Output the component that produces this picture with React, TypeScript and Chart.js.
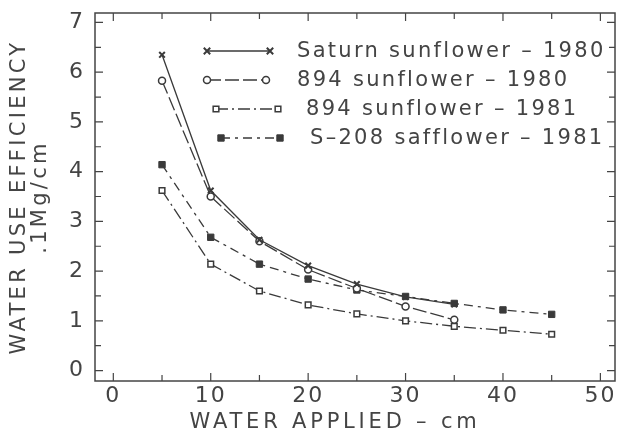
import React, { useEffect, useRef } from 'react';
import { Chart, registerables } from 'chart.js';
Chart.register(...registerables);

// ---- data ----
const waterApplied = [5, 10, 15, 20, 25, 30, 35, 40, 45];
const saturn1980 = [6.35, 3.62, 2.63, 2.11, 1.74, 1.48, 1.33];
const sunflower894_1980 = [5.83, 3.5, 2.6, 2.03, 1.65, 1.29, 1.02];
const sunflower894_1981 = [3.62, 2.14, 1.6, 1.32, 1.14, 1.0, 0.89, 0.81, 0.73];
const safflowerS208_1981 = [4.14, 2.68, 2.14, 1.84, 1.62, 1.49, 1.35, 1.22, 1.13];
const seriesLabels = [
  'Saturn sunflower – 1980',
  '894 sunflower – 1980',
  '894 sunflower – 1981',
  'S–208 safflower – 1981',
];
const xTickLabels = [0, 10, 20, 30, 40, 50];
const yTickLabels = [0, 1, 2, 3, 4, 5, 6, 7];
const xFrameTicks = [0, 5, 10, 15, 20, 25, 30, 35, 40, 45, 50];
const yFrameTicks = [0, 0.5, 1, 1.5, 2, 2.5, 3, 3.5, 4, 4.5, 5, 5.5, 6, 6.5, 7];
const xTitle = 'WATER APPLIED – cm';
const yTitle = ['WATER USE EFFICIENCY', '.1Mg/cm'];

const INK = '#3a3a3a';
const TEXT = '#444';
const FONT = "'DejaVu Sans', sans-serif";

function toPoints(vals: number[]) {
  return vals.map((v, i) => ({ x: waterApplied[i], y: v }));
}

function drawMarker(ctx: CanvasRenderingContext2D, style: string, x: number, y: number, r: number, fill: string, lw: number) {
  ctx.save();
  ctx.lineWidth = lw;
  ctx.strokeStyle = INK;
  ctx.fillStyle = fill;
  ctx.setLineDash([]);
  ctx.beginPath();
  if (style === 'circle') {
    ctx.arc(x, y, r, 0, Math.PI * 2);
    ctx.fill();
    ctx.stroke();
  } else if (style === 'rect') {
    const s = r * Math.SQRT1_2 * 2;
    ctx.rect(x - s / 2, y - s / 2, s, s);
    ctx.fill();
    ctx.stroke();
  } else {
    const d = r * 0.8;
    ctx.moveTo(x - d, y - d);
    ctx.lineTo(x + d, y + d);
    ctx.moveTo(x + d, y - d);
    ctx.lineTo(x - d, y + d);
    ctx.stroke();
  }
  ctx.restore();
}

const frameAndLegend = {
  id: 'frameAndLegend',
  beforeLayout(chart: any) {
    chart.ctx.letterSpacing = '2px';
  },
  beforeDraw(chart: any) {
    const ctx = chart.ctx;
    ctx.save();
    ctx.fillStyle = '#fff';
    ctx.fillRect(0, 0, chart.width, chart.height);
    ctx.restore();
    ctx.letterSpacing = '2px';
  },
  afterDraw(chart: any) {
    const ctx: CanvasRenderingContext2D = chart.ctx;
    const { left, right, top, bottom } = chart.chartArea;
    const xs = chart.scales.x;
    const ys = chart.scales.y;
    ctx.save();
    ctx.strokeStyle = '#444';
    ctx.lineWidth = 1.5;
    ctx.setLineDash([]);
    ctx.strokeRect(left, top, right - left, bottom - top);
    ctx.lineWidth = 1.2;
    ctx.beginPath();
    xFrameTicks.forEach((v, i) => {
      const px = xs.getPixelForValue(v);
      const len = i % 2 === 0 ? 8 : 6;
      ctx.moveTo(px, bottom);
      ctx.lineTo(px, bottom - len);
      ctx.moveTo(px, top);
      ctx.lineTo(px, top + len);
    });
    yFrameTicks.forEach((v, i) => {
      const py = ys.getPixelForValue(v);
      const len = i % 2 === 0 ? 8 : 6;
      ctx.moveTo(left, py);
      ctx.lineTo(left + len, py);
      ctx.moveTo(right, py);
      ctx.lineTo(right - len, py);
    });
    ctx.stroke();
    ctx.restore();

    // legend
    const rowsY = [51, 80, 109, 138];
    const lineStart = [207, 207, 216, 221];
    const lineEnd = [270, 266, 278, 280];
    const textX = [297, 297, 306, 310];
    chart.data.datasets.forEach((ds: any, i: number) => {
      const y = rowsY[i];
      ctx.save();
      ctx.strokeStyle = INK;
      ctx.lineWidth = 1.3;
      ctx.setLineDash(ds.borderDash || []);
      ctx.beginPath();
      ctx.moveTo(lineStart[i], y);
      ctx.lineTo(lineEnd[i], y);
      ctx.stroke();
      ctx.restore();
      drawMarker(ctx, ds.pointStyle, lineStart[i], y, ds.pointRadius, ds.pointBackgroundColor, ds.pointBorderWidth);
      drawMarker(ctx, ds.pointStyle, lineEnd[i], y, ds.pointRadius, ds.pointBackgroundColor, ds.pointBorderWidth);
      ctx.save();
      ctx.letterSpacing = '2.3px';
      ctx.font = `21px ${FONT}`;
      ctx.fillStyle = TEXT;
      ctx.textAlign = 'left';
      ctx.textBaseline = 'middle';
      ctx.fillText(ds.label, textX[i], y + 1);
      ctx.restore();
    });
  },
};

function prepScale(scale: any, spacing: string, shiftX: number) {
  scale.paddingTop = 0;
  scale.paddingBottom = 0;
  scale.paddingLeft = 0;
  scale.paddingRight = 0;
  if (!scale._titleWrapped) {
    const orig = scale.drawTitle.bind(scale);
    scale.drawTitle = (...args: any[]) => {
      const c = scale.ctx;
      c.save();
      c.letterSpacing = spacing;
      c.translate(shiftX, 0);
      orig(...args);
      c.restore();
    };
    scale._titleWrapped = true;
  }
}

export default function App() {
  const ref = useRef<HTMLCanvasElement | null>(null);
  useEffect(() => {
    document.body.style.margin = '0';
    const canvas = ref.current!;
    const chart = new Chart(canvas, {
      type: 'line',
      data: {
        datasets: [
          {
            label: seriesLabels[0],
            data: toPoints(saturn1980),
            borderColor: INK,
            borderWidth: 1.3,
            borderDash: [],
            pointStyle: 'crossRot',
            pointRadius: 4,
            pointBorderWidth: 2,
            pointBorderColor: INK,
            pointBackgroundColor: INK,
          },
          {
            label: seriesLabels[1],
            data: toPoints(sunflower894_1980),
            borderColor: INK,
            borderWidth: 1.3,
            borderDash: [14, 4],
            pointStyle: 'circle',
            pointRadius: 3.5,
            pointBorderWidth: 1.5,
            pointBorderColor: INK,
            pointBackgroundColor: '#fff',
          },
          {
            label: seriesLabels[2],
            data: toPoints(sunflower894_1981),
            borderColor: INK,
            borderWidth: 1.3,
            borderDash: [12, 4, 2, 4],
            pointStyle: 'rect',
            pointRadius: 4,
            pointBorderWidth: 1.5,
            pointBorderColor: INK,
            pointBackgroundColor: '#fff',
          },
          {
            label: seriesLabels[3],
            data: toPoints(safflowerS208_1981),
            borderColor: INK,
            borderWidth: 1.3,
            borderDash: [9, 5, 3, 5],
            pointStyle: 'rect',
            pointRadius: 4.5,
            pointBorderWidth: 1,
            pointBorderColor: INK,
            pointBackgroundColor: INK,
          },
        ] as any,
      },
      options: {
        animation: false,
        responsive: false,
        devicePixelRatio: 1,
        layout: { padding: { top: 13, right: 8, left: 0, bottom: 0 } },
        plugins: { legend: { display: false }, tooltip: { enabled: false } },
        scales: {
          x: {
            type: 'linear',
            min: -1.88,
            max: 51.5,
            grid: { display: false, drawTicks: false },
            border: { display: false },
            afterBuildTicks: (s: any) => {
              s.ticks = xTickLabels.map((v) => ({ value: v }));
            },
            afterFit: (s: any) => {
              s.height = 53;
              prepScale(s, '3.8px', -20);
            },
            ticks: {
              padding: 2,
              color: TEXT,
              font: { family: FONT, size: 22 },
              maxRotation: 0,
              autoSkip: false,
            },
            title: {
              display: true,
              text: xTitle,
              color: TEXT,
              font: { family: FONT, size: 21, lineHeight: 1.0 },
              padding: { top: 0, bottom: 1 },
            },
          },
          y: {
            type: 'linear',
            min: -0.21,
            max: 7.19,
            grid: { display: false, drawTicks: false },
            border: { display: false },
            afterBuildTicks: (s: any) => {
              s.ticks = yTickLabels.map((v) => ({ value: v }));
            },
            afterFit: (s: any) => {
              s.width = 95;
              prepScale(s, '3.3px', 0);
            },
            ticks: {
              padding: 10,
              color: TEXT,
              font: { family: FONT, size: 22 },
              autoSkip: false,
            },
            title: {
              display: true,
              text: yTitle,
              color: TEXT,
              font: { family: FONT, size: 21, lineHeight: 1.0 },
              padding: { top: 9.5, bottom: 0 },
            },
          },
        },
      } as any,
      plugins: [frameAndLegend],
    });
    return () => chart.destroy();
  }, []);
  return <canvas ref={ref} width={623} height={434} style={{ display: 'block', width: 623, height: 434 }} />;
}
